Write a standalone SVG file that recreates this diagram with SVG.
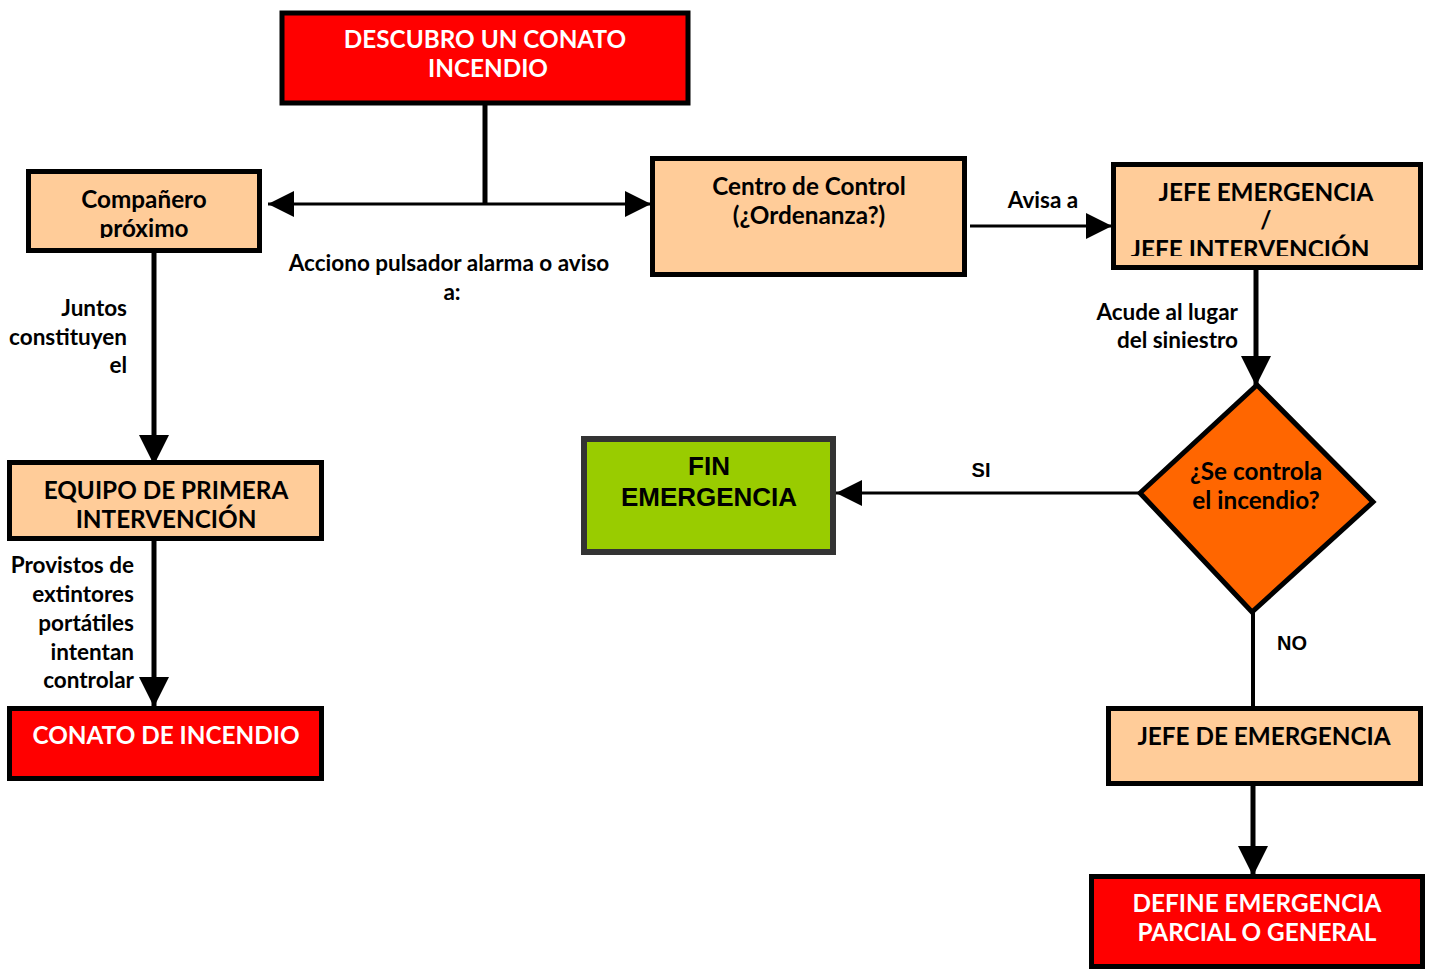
<svg xmlns="http://www.w3.org/2000/svg" width="1433" height="970" viewBox="0 0 1433 970">
  <style>
    .box { stroke: #000; stroke-width: 5; }
    .red { fill: #FF0000; }
    .peach { fill: #FFCC99; }
    .t { font-family: Lato, "Liberation Sans", sans-serif; font-weight: bold; font-size: 24.3px; fill: #000; text-anchor: middle; }
    .w { fill: #FFFFFF; }
    .lbl { font-family: Lato, "Liberation Sans", sans-serif; font-weight: bold; font-size: 22.5px; fill: #000; }
    .r { text-anchor: end; }
    .c { text-anchor: middle; }
    .ar { font-family: "Liberation Sans", Arial, sans-serif; font-weight: bold; fill: #000; }
    .line { stroke: #000; fill: none; }
  </style>
  <defs>
    <marker id="ah" viewBox="0 0 10 10" refX="10" refY="5" markerWidth="26" markerHeight="26" markerUnits="userSpaceOnUse" orient="auto">
      <path d="M0,0 L10,5 L0,10 Z" fill="#000"/>
    </marker>
    <marker id="ahBig" viewBox="0 0 10 10" refX="10" refY="5" markerWidth="30" markerHeight="30" markerUnits="userSpaceOnUse" orient="auto">
      <path d="M0,0 L10,5 L0,10 Z" fill="#000"/>
    </marker>
    <clipPath id="clipComp"><rect x="31" y="174" width="226" height="64"/></clipPath>
    <clipPath id="clipJefe"><rect x="1116" y="167" width="302" height="89"/></clipPath>
  </defs>

  <!-- connectors -->
  <g id="connectors">
    <line class="line" x1="485" y1="105" x2="485" y2="204" stroke-width="5"/>
    <line class="line" x1="485" y1="204" x2="268" y2="204" stroke-width="3" marker-end="url(#ah)"/>
    <line class="line" x1="485" y1="204" x2="651" y2="204" stroke-width="3" marker-end="url(#ah)"/>
    <line class="line" x1="154" y1="252" x2="154" y2="465" stroke-width="5" marker-end="url(#ahBig)"/>
    <line class="line" x1="154" y1="540" x2="154" y2="707" stroke-width="5" marker-end="url(#ahBig)"/>
    <line class="line" x1="970" y1="226" x2="1112" y2="226" stroke-width="3" marker-end="url(#ah)"/>
    <line class="line" x1="1256" y1="268" x2="1256" y2="386" stroke-width="5" marker-end="url(#ahBig)"/>
    <line class="line" x1="1140" y1="493" x2="836" y2="493" stroke-width="3" marker-end="url(#ah)"/>
    <line class="line" x1="1253" y1="612" x2="1253" y2="707" stroke-width="4"/>
    <line class="line" x1="1253" y1="785" x2="1253" y2="876" stroke-width="5" marker-end="url(#ahBig)"/>
  </g>

  <!-- connector labels -->
  <g id="labels">
    <text class="lbl c" x="449" y="271">Acciono pulsador alarma o aviso</text>
    <text class="lbl c" x="452" y="300">a:</text>
    <text class="lbl r" x="127" y="316">Juntos</text>
    <text class="lbl r" x="127" y="345">constituyen</text>
    <text class="lbl r" x="127" y="373">el</text>
    <text class="lbl r" x="134" y="573">Provistos de</text>
    <text class="lbl r" x="134" y="602">extintores</text>
    <text class="lbl r" x="134" y="631">portátiles</text>
    <text class="lbl r" x="134" y="660">intentan</text>
    <text class="lbl r" x="134" y="688">controlar</text>
    <text class="lbl c" x="1043" y="208">Avisa a</text>
    <text class="lbl r" x="1238" y="320">Acude al lugar</text>
    <text class="lbl r" x="1238" y="348">del siniestro</text>
    <text class="ar c" x="981" y="477" font-size="20">SI</text>
    <text class="ar c" x="1292" y="650" font-size="20">NO</text>
  </g>

  <g id="n-descubro">
    <rect class="box red" x="282" y="13" width="406" height="90" stroke-width="6"/>
    <text class="t w" x="485" y="48">DESCUBRO UN CONATO</text>
    <text class="t w" x="488" y="77">INCENDIO</text>
  </g>

  <g id="n-companero">
    <rect class="box peach" x="28.5" y="171.5" width="231" height="79"/>
    <g clip-path="url(#clipComp)">
      <text class="t" x="144" y="208">Compañero</text>
      <text class="t" x="144" y="237">próximo</text>
    </g>
  </g>

  <g id="n-centro">
    <rect class="box peach" x="652.5" y="158.5" width="312" height="116"/>
    <text class="t" x="809" y="195">Centro de Control</text>
    <text class="t" x="809" y="224">(¿Ordenanza?)</text>
  </g>

  <g id="n-jefe">
    <rect class="box peach" x="1113.5" y="164.5" width="307" height="103"/>
    <g clip-path="url(#clipJefe)">
      <text class="t" x="1266" y="201">JEFE EMERGENCIA</text>
      <text class="t" x="1266" y="229">/</text>
      <text class="t" x="1250" y="258">JEFE INTERVENCIÓN</text>
    </g>
  </g>

  <g id="n-equipo">
    <rect class="box peach" x="9.5" y="462.5" width="312" height="76"/>
    <text class="t" x="166" y="499">EQUIPO DE PRIMERA</text>
    <text class="t" x="166" y="528">INTERVENCIÓN</text>
  </g>

  <g id="n-conato">
    <rect class="box red" x="9.5" y="708.5" width="312" height="70"/>
    <text class="t w" x="166" y="744">CONATO DE INCENDIO</text>
  </g>

  <g id="n-decision">
    <polygon points="1257,385 1373,502 1252,612 1140,493" fill="#FF6600" stroke="#000" stroke-width="5" stroke-linejoin="miter"/>
    <text class="t" x="1256" y="480">¿Se controla</text>
    <text class="t" x="1256" y="509">el incendio?</text>
  </g>

  <g id="n-fin">
    <rect x="584" y="439" width="249" height="113" fill="#99CC00" stroke="#333333" stroke-width="6"/>
    <text class="ar c" x="709" y="475" font-size="26">FIN</text>
    <text class="ar c" x="709" y="506" font-size="26">EMERGENCIA</text>
  </g>

  <g id="n-jefe-emergencia">
    <rect class="box peach" x="1108.5" y="708.5" width="312" height="75"/>
    <text class="t" x="1264" y="745">JEFE DE EMERGENCIA</text>
  </g>

  <g id="n-define">
    <rect class="box red" x="1091.5" y="876.5" width="331" height="90"/>
    <text class="t w" x="1257" y="912">DEFINE EMERGENCIA</text>
    <text class="t w" x="1257" y="941">PARCIAL O GENERAL</text>
  </g>
</svg>
